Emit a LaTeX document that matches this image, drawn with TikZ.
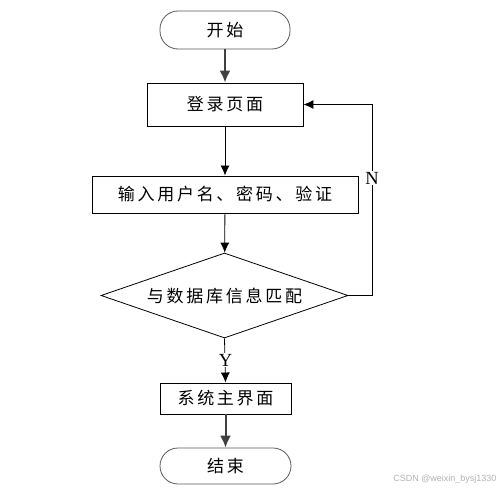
\documentclass[tikz,border=0pt]{standalone}
\usepackage{fontspec}
\newfontfamily\cjk[LetterSpace=16]{Noto Sans CJK SC}
\newfontfamily\latinserif{Liberation Serif}
\newfontfamily\marksans{Liberation Sans}
\usetikzlibrary{shapes.geometric, arrows.meta}

\tikzset{
	terminal/.style={draw=black!65, line width=0.8pt, rounded corners=18pt, minimum width=130pt, minimum height=38pt},
	stepbox/.style={draw, line width=0.9pt, inner sep=0pt},
	decision/.style={draw, line width=0.8pt, diamond, aspect=2.9, minimum width=247pt, minimum height=85pt, inner sep=0pt},
	flow/.style={line width=0.8pt, -{Latex[length=10pt, width=9pt]}},
	heavyflow/.style={draw=black!75, line width=2pt, -{Latex[length=12pt, width=11pt]}},
	yesno/.style={fill=white, inner sep=1pt, font=\latinserif\fontsize{18.5}{20}\selectfont}
}

\begin{document}
\begin{tikzpicture}[x=1pt, y=-1pt, font=\cjk\fontsize{17}{20}\selectfont]
	\useasboundingbox (0, 0) rectangle (501, 495);
	% Nodes:
	\node[terminal](N1) at (225, 30){开始};
	\node[stepbox, minimum width=156pt, minimum height=43pt](N2) at (225, 104.5){登录页面};
	\node[stepbox, minimum width=266pt, minimum height=37pt](N3) at (225, 194.5){输入用户名、密码、验证};
	\node[decision](N4) at (224.5, 295.5){与数据库信息匹配};
	\node[stepbox, minimum width=131pt, minimum height=31pt](N5) at (225.5, 398.5){系统主界面};
	\node[terminal, minimum width=131pt, minimum height=36pt](N6) at (225.5, 466){结束};
	\coordinate (C1) at (372, 295.5);
	\coordinate (C2) at (372, 104.5);
	% Connectors:
	\draw[heavyflow] (N1) -- (N2);
	\draw[flow] (N2) -- (N3);
	\draw[flow] (N3) -- (N4);
	\draw[flow] (N4.east) -- (C1) -- (C2) -- (N2.east);
	\draw[flow] (N4.south) -- (N5.north);
	\draw[heavyflow] (N5) -- (N6);
	\node[yesno](N7) at (372, 178){N};
	\node[yesno](N8) at (225.5, 360){Y};
	\node[anchor=east, text=black!30, font=\marksans\fontsize{9}{10}\selectfont](N9) at (500, 479){CSDN @weixin\_bysj1330};
\end{tikzpicture}
\end{document}
